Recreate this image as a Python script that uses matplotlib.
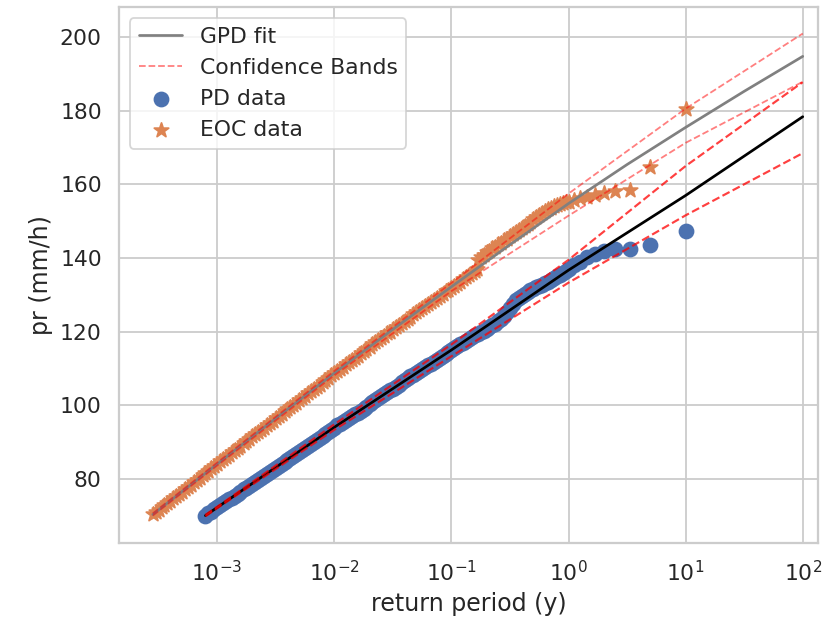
import matplotlib.pyplot as plt
import seaborn as sns

# PD data (return period in years, pr in mm/h)
pd_rp = [0.000794, 0.000841, 0.000891, 0.000944, 0.001, 0.00106, 0.00112, 0.00119, 0.00126, 0.00133,
         0.00141, 0.0015, 0.00158, 0.00168, 0.00178, 0.00188, 0.002, 0.00211, 0.00224, 0.00237,
         0.00251, 0.00266, 0.00282, 0.00299, 0.00316, 0.00335, 0.00355, 0.00376, 0.00398, 0.00422,
         0.00447, 0.00473, 0.00501, 0.00531, 0.00562, 0.00596, 0.00631, 0.00668, 0.00708, 0.0075,
         0.00794, 0.00841, 0.00891, 0.00944, 0.01, 0.0106, 0.0112, 0.0119, 0.0126, 0.0133,
         0.0141, 0.015, 0.0158, 0.0168, 0.0178, 0.0188, 0.02, 0.0211, 0.0224, 0.0237,
         0.0251, 0.0266, 0.0282, 0.0299, 0.0316, 0.0335, 0.0355, 0.0376, 0.0398, 0.0422,
         0.0447, 0.0473, 0.0501, 0.0531, 0.0562, 0.0596, 0.0631, 0.0668, 0.0708, 0.075,
         0.0794, 0.0841, 0.0891, 0.0944, 0.1, 0.106, 0.112, 0.119, 0.126, 0.133,
         0.141, 0.15, 0.158, 0.168, 0.178, 0.188, 0.2, 0.211, 0.224, 0.237,
         0.251, 0.266, 0.282, 0.299, 0.316, 0.335, 0.355, 0.376, 0.398, 0.422,
         0.447, 0.473, 0.501, 0.531, 0.562, 0.596, 0.631, 0.668, 0.708, 0.75,
         0.794, 0.841, 0.891, 0.944, 1.0, 1.11, 1.25, 1.43, 1.67, 2.0,
         2.5, 3.33, 5.0, 10.0]
pd_pr = [70.0, 70.6, 71.1, 71.7, 72.2, 72.8, 73.3, 73.9, 74.4, 74.9,
         75.4, 76.0, 76.5, 77.1, 77.6, 78.1, 78.6, 79.2, 79.7, 80.2,
         80.7, 81.3, 81.8, 82.4, 82.9, 83.5, 84.0, 84.6, 85.1, 85.6,
         86.1, 86.7, 87.3, 87.8, 88.3, 88.9, 89.4, 90.0, 90.5, 91.0,
         91.6, 92.2, 92.8, 93.3, 93.9, 94.5, 95.0, 95.5, 96.0, 96.6,
         97.1, 97.6, 98.0, 98.5, 99.0, 99.6, 100.2, 100.8, 101.3, 101.9,
         102.4, 103.0, 103.5, 104.0, 104.4, 104.9, 105.5, 106.2, 106.8, 107.4,
         107.9, 108.3, 108.7, 109.2, 109.8, 110.3, 110.8, 111.2, 111.7, 112.2,
         112.8, 113.4, 113.9, 114.5, 115.0, 115.5, 116.0, 116.5, 117.0, 117.5,
         118.0, 118.5, 119.0, 119.4, 119.9, 120.3, 120.8, 121.2, 121.7, 122.2,
         122.8, 123.5, 124.3, 125.3, 126.4, 127.5, 128.5, 129.2, 129.8, 130.3,
         130.8, 131.2, 131.6, 132.0, 132.3, 132.7, 133.1, 133.5, 134.0, 134.5,
         135.0, 135.5, 136.0, 136.5, 137.0, 138.0, 139.0, 140.2, 141.2, 142.0,
         142.4, 142.4, 143.6, 147.3]

# EOC data
eoc_rp = [0.000282, 0.000299, 0.000316, 0.000335, 0.000355, 0.000376, 0.000398, 0.000422, 0.000447, 0.000473,
          0.000501, 0.000531, 0.000562, 0.000596, 0.000631, 0.000668, 0.000708, 0.00075, 0.000794, 0.000841,
          0.000891, 0.000944, 0.001, 0.00106, 0.00112, 0.00119, 0.00126, 0.00133, 0.00141, 0.0015,
          0.00158, 0.00168, 0.00178, 0.00188, 0.002, 0.00211, 0.00224, 0.00237, 0.00251, 0.00266,
          0.00282, 0.00299, 0.00316, 0.00335, 0.00355, 0.00376, 0.00398, 0.00422, 0.00447, 0.00473,
          0.00501, 0.00531, 0.00562, 0.00596, 0.00631, 0.00668, 0.00708, 0.0075, 0.00794, 0.00841,
          0.00891, 0.00944, 0.01, 0.0106, 0.0112, 0.0119, 0.0126, 0.0133, 0.0141, 0.015,
          0.0158, 0.0168, 0.0178, 0.0188, 0.02, 0.0211, 0.0224, 0.0237, 0.0251, 0.0266,
          0.0282, 0.0299, 0.0316, 0.0335, 0.0355, 0.0376, 0.0398, 0.0422, 0.0447, 0.0473,
          0.0501, 0.0531, 0.0562, 0.0596, 0.0631, 0.0668, 0.0708, 0.075, 0.0794, 0.0841,
          0.0891, 0.0944, 0.1, 0.106, 0.112, 0.119, 0.126, 0.133, 0.141, 0.15,
          0.158, 0.164, 0.168, 0.178, 0.188, 0.2, 0.211, 0.224, 0.237, 0.251,
          0.266, 0.282, 0.299, 0.316, 0.335, 0.355, 0.376, 0.398, 0.422, 0.447,
          0.473, 0.501, 0.531, 0.562, 0.596, 0.631, 0.668, 0.708, 0.75, 0.794,
          0.841, 0.891, 0.944, 1.0, 1.11, 1.25, 1.43, 1.67, 2.0, 2.5,
          3.33, 5.0, 10.0]
eoc_pr = [70.3, 70.9, 71.5, 72.2, 72.8, 73.4, 74.0, 74.7, 75.3, 75.9,
          76.5, 77.2, 77.8, 78.4, 79.0, 79.7, 80.3, 80.9, 81.5, 82.2,
          82.8, 83.4, 84.0, 84.7, 85.3, 85.9, 86.5, 87.2, 87.8, 88.4,
          89.0, 89.6, 90.2, 90.9, 91.5, 92.1, 92.7, 93.3, 93.9, 94.6,
          95.2, 95.8, 96.4, 97.0, 97.6, 98.3, 98.9, 99.5, 100.1, 100.7,
          101.3, 102.0, 102.6, 103.2, 103.8, 104.4, 105.0, 105.6, 106.2, 106.9,
          107.5, 108.1, 108.7, 109.3, 109.9, 110.5, 111.1, 111.7, 112.3, 112.9,
          113.5, 114.1, 114.7, 115.3, 115.9, 116.5, 117.1, 117.7, 118.3, 118.9,
          119.5, 120.0, 120.6, 121.2, 121.8, 122.3, 122.9, 123.5, 124.1, 124.7,
          125.3, 125.8, 126.4, 126.9, 127.5, 128.0, 128.5, 129.0, 129.6, 130.3,
          130.9, 131.4, 131.9, 132.4, 133.0, 133.6, 134.2, 134.8, 135.4, 135.9,
          136.5, 137.0, 139.4, 140.2, 140.8, 141.5, 142.0, 142.6, 143.1, 143.7,
          144.2, 144.8, 145.3, 145.9, 146.4, 147.0, 147.5, 148.1, 148.7, 149.3,
          149.9, 150.5, 151.1, 151.7, 152.3, 152.8, 153.3, 153.7, 154.1, 154.4,
          154.7, 154.9, 155.1, 155.3, 155.7, 156.2, 156.6, 157.0, 157.6, 158.3,
          158.6, 164.7, 180.4]

# GPD fit and confidence bands, EOC
eoc_fit_rp = [0.000282, 0.001, 0.00316, 0.01, 0.0316, 0.1, 0.316, 1.0, 3.16, 10.0, 31.6, 100.0]
eoc_fit = [70.3, 84.0, 96.4, 108.7, 120.6, 132.2, 143.6, 154.8, 165.4, 175.5, 185.3, 194.8]
eoc_band_rp = [0.000282, 0.001, 0.01, 0.1, 1.0, 10.0, 100.0]
eoc_upper = [70.6, 84.4, 109.3, 133.2, 157.5, 180.6, 201.0]
eoc_lower = [70.0, 83.6, 108.1, 131.0, 151.5, 171.3, 187.9]

# GPD fit and confidence bands, PD
pd_fit_rp = [0.000794, 0.001, 0.01, 0.1, 1.0, 10.0, 100.0]
pd_fit = [70.0, 72.2, 94.0, 115.0, 136.7, 157.0, 178.4]
pd_upper = [70.2, 72.4, 94.8, 116.5, 139.5, 165.0, 187.8]
pd_lower = [69.8, 72.0, 93.3, 113.3, 133.3, 151.6, 168.5]

sns.set_theme(style="whitegrid", font_scale=1.1)
plt.rcParams['font.family'] = ['DejaVu Sans']

fig, ax = plt.subplots(figsize=(830 / 130, 620 / 130), dpi=130)
fig.subplots_adjust(left=0.1434, right=0.9855, bottom=0.1245, top=0.988)

# fitted lines (drawn above the scatter)
ax.plot(eoc_fit_rp, eoc_fit, color="gray", lw=1.5, label="GPD fit", zorder=3)
ax.plot(eoc_band_rp, eoc_upper, "--", color="red", alpha=0.5, lw=1, label="Confidence Bands", zorder=3)
ax.plot(eoc_band_rp, eoc_lower, "--", color="red", alpha=0.5, lw=1, zorder=3)

ax.plot(pd_fit_rp, pd_fit, color="black", lw=1.5, zorder=3)
ax.plot(pd_fit_rp, pd_upper, "--", color="red", alpha=0.75, lw=1.2, zorder=3)
ax.plot(pd_fit_rp, pd_lower, "--", color="red", alpha=0.75, lw=1.2, zorder=3)

# data
ax.scatter(pd_rp, pd_pr, s=60, color="C0", label="PD data", zorder=2)
ax.scatter(eoc_rp, eoc_pr, s=70, marker="*", color="C1", label="EOC data", zorder=2)

ax.set_xscale("log")
ax.set_xlim(10 ** -3.838, 10 ** 2.13)
ax.set_ylim(62.6, 208.1)
ax.set_yticks([80, 100, 120, 140, 160, 180, 200])

ax.set_xlabel("return period (y)")
ax.set_ylabel("pr (mm/h)")
ax.legend(loc="upper left")

plt.savefig("out.png", dpi=130)
